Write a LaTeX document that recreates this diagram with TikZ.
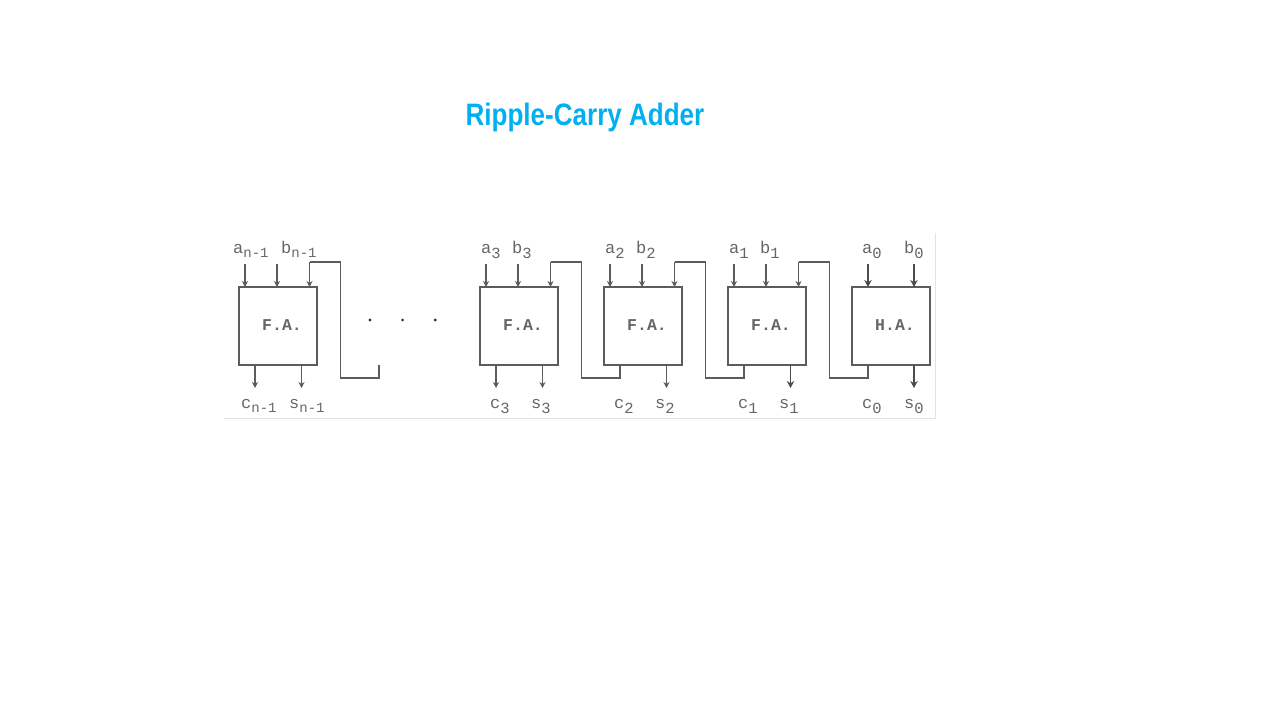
\documentclass[tikz,border=0pt]{standalone}
\usepackage{fontspec}
\setmonofont{Liberation Mono}
\newfontfamily\titlefont[FakeStretch=0.84]{Liberation Sans}
\usetikzlibrary{positioning,arrows.meta}
\definecolor{titleblue}{HTML}{00B0F0}
\definecolor{wiregray}{HTML}{5C5C5C}
\definecolor{textgray}{HTML}{666666}
\definecolor{edgegray}{HTML}{E2E2E2}
\newcommand{\sigbig}[2]{#1{\fontsize{15.5}{15.5}\selectfont\raisebox{-5pt}{#2}}}
\newcommand{\sigsmall}[2]{#1{\fontsize{14}{14}\selectfont\raisebox{-4pt}{#2}}}
\tikzset{
	adder/.style={draw=wiregray, line width=1.05pt, minimum size=78pt, inner sep=0pt, outer sep=0pt},
	adderlabel/.style={font=\ttfamily\fontsize{16.5}{16.5}\selectfont\bfseries, text=textgray, xshift=4pt, yshift=0.5pt},
	signal/.style={font=\ttfamily\fontsize{17}{17}\selectfont, text=textgray, anchor=base west, inner sep=0pt},
	wire/.style={draw=wiregray, line width=1.05pt},
	pin/.style={wire, -{Stealth[length=6pt,width=6pt]}},
	bigpin/.style={wire, draw=black!70, -{Stealth[length=7pt,width=7.5pt]}},
	dotmark/.style={circle, fill=black!80, minimum size=3.2pt, inner sep=0pt},
}
\begin{document}
\begin{tikzpicture}[x=1pt,y=-1pt]
	\useasboundingbox (0,0) rectangle (1280,720);
	\node [font=\titlefont\fontsize{31}{31}\selectfont\bfseries, text=titleblue] (title) at (585,117) {Ripple-Carry Adder};
	% edge of the pasted figure
	\coordinate (c1) at (224,418);
	\coordinate (c2) at (935.5,418);
	\coordinate (c3) at (935.5,233);
	\draw [edgegray, line width=0.7pt] (c1) -- (c2) -- (c3);

	\node [adder] (fan) at (278,326) {};
	\node [adder, right=163pt of fan] (fa3) {};
	\node [adder, right=46pt of fa3] (fa2) {};
	\node [adder, right=46pt of fa2] (fa1) {};
	\node [adder, right=46pt of fa1] (ha0) {};
	\node [adderlabel] (fanname) at (fan) {F.A.};
	\node [adderlabel] (fa3name) at (fa3) {F.A.};
	\node [adderlabel] (fa2name) at (fa2) {F.A.};
	\node [adderlabel] (fa1name) at (fa1) {F.A.};
	\node [adderlabel] (ha0name) at (ha0) {H.A.};

	\foreach \b in {fan,fa3,fa2,fa1} {
		\coordinate [above right=23pt and 6pt of \b.north west] (\b a);
		\coordinate [above right=23pt and 38pt of \b.north west] (\b b);
		\coordinate [above right=25pt and 70.5pt of \b.north west] (\b cin);
		\coordinate [right=70.5pt of \b.north west] (\b cend);
		\coordinate [below right=23pt and 16pt of \b.south west] (\b c);
		\coordinate [below right=23pt and 62.5pt of \b.south west] (\b s);
		\coordinate [right=16pt of \b.south west] (\b cout);
		\coordinate [below=13pt of \b cout] (\b drop);
		\coordinate [right=31pt of \b cin] (\b turn);
		\draw [pin] (\b a) -- (\b a |- \b.north);
		\draw [pin] (\b b) -- (\b b |- \b.north);
	}
	\coordinate [above right=23pt and 16pt of ha0.north west] (ha0a);
	\coordinate [above right=23pt and 62pt of ha0.north west] (ha0b);
	\coordinate [right=16pt of ha0.south west] (ha0cout);
	\coordinate [below=13pt of ha0cout] (ha0drop);
	\coordinate [below right=23pt and 62pt of ha0.south west] (ha0s);
	\draw [bigpin] (ha0a) -- (ha0a |- ha0.north);
	\draw [bigpin] (ha0b) -- (ha0b |- ha0.north);
	\draw [bigpin] (ha0s |- ha0.south) -- (ha0s);
	\draw [bigpin] (fa1s |- fa1.south) -- (fa1s);
	\draw [pin] (fa2s |- fa2.south) -- (fa2s);
	\draw [pin] (fa3s |- fa3.south) -- (fa3s);
	\draw [pin] (fans |- fan.south) -- (fans);
	\draw [pin] (fanc |- fan.south) -- (fanc);
	\draw [pin] (fa3c |- fa3.south) -- (fa3c);

	% carry wires
	\coordinate [below right=13pt and 62pt of fan.south east] (fanfree);
	\coordinate [above=13pt of fanfree] (fanfreetop);
	\draw [wire] (fanfreetop) -- (fanfree) -- (fanfree -| fanturn) -- (fanturn) -- (fancin);
	\draw [wire] (fa2cout) -- (fa2drop) -- (fa2drop -| fa3turn) -- (fa3turn) -- (fa3cin);
	\draw [wire] (fa1cout) -- (fa1drop) -- (fa1drop -| fa2turn) -- (fa2turn) -- (fa2cin);
	\draw [wire] (ha0cout) -- (ha0drop) -- (ha0drop -| fa1turn) -- (fa1turn) -- (fa1cin);
	\foreach \b in {fan,fa3,fa2,fa1} {
		\draw [pin] (\b cin) -- (\b cend);
	}

	\node [dotmark] (dot1) at (370,320) {};
	\node [dotmark, right=29pt of dot1] (dot2) {};
	\node [dotmark, right=29pt of dot2] (dot3) {};

	% signal names
	\node [signal] (lan) at (233,253) {\sigsmall{a}{n-1}};
	\node [signal] (lbn) at (281,253) {\sigsmall{b}{n-1}};
	\node [signal] (lcn) at (241,408) {\sigsmall{c}{n-1}};
	\node [signal] (lsn) at (289,408) {\sigsmall{s}{n-1}};
	\node [signal] (la3) at (481,253) {\sigbig{a}{3}};
	\node [signal] (lb3) at (512,253) {\sigbig{b}{3}};
	\node [signal] (lc3) at (490,408) {\sigbig{c}{3}};
	\node [signal] (ls3) at (531,408) {\sigbig{s}{3}};
	\node [signal] (la2) at (605,253) {\sigbig{a}{2}};
	\node [signal] (lb2) at (636,253) {\sigbig{b}{2}};
	\node [signal] (lc2) at (614,408) {\sigbig{c}{2}};
	\node [signal] (ls2) at (655,408) {\sigbig{s}{2}};
	\node [signal] (la1) at (729,253) {\sigbig{a}{1}};
	\node [signal] (lb1) at (760,253) {\sigbig{b}{1}};
	\node [signal] (lc1) at (738,408) {\sigbig{c}{1}};
	\node [signal] (ls1) at (779,408) {\sigbig{s}{1}};
	\node [signal] (la0) at (862,253) {\sigbig{a}{0}};
	\node [signal] (lb0) at (904,253) {\sigbig{b}{0}};
	\node [signal] (lc0) at (862,408) {\sigbig{c}{0}};
	\node [signal] (ls0) at (904,408) {\sigbig{s}{0}};
\end{tikzpicture}
\end{document}
